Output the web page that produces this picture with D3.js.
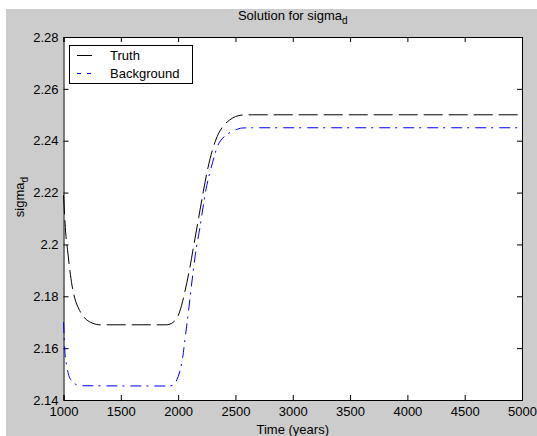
<!DOCTYPE html>
<html>
<head>
<meta charset="utf-8">
<script src="https://cdn.jsdelivr.net/npm/d3@7"></script>
<style>
  html, body { margin: 0; padding: 0; background: #ffffff; }
  svg { display: block; }
  text { font-family: "Liberation Sans", Arial, Helvetica, sans-serif; fill: #000; }
</style>
</head>
<body>
<svg id="chart" width="537" height="436"></svg>
<script>
// Time axis (years) and solution values for sigma_d
const truthYears = [1000, 1010, 1020, 1035, 1050, 1075, 1100, 1130, 1160, 1200, 1250, 1320, 1900, 1940, 1970, 2000, 2030, 2060, 2100, 2140, 2180, 2220, 2260, 2300, 2350, 2400, 2450, 2500, 2560, 2650, 5000];
const truthValues = [2.219, 2.211, 2.204, 2.198, 2.192, 2.184, 2.179, 2.1755, 2.173, 2.171, 2.1697, 2.169, 2.169, 2.1695, 2.1705, 2.1725, 2.1765, 2.182, 2.1905, 2.2005, 2.2105, 2.2205, 2.2295, 2.2365, 2.2425, 2.246, 2.248, 2.2493, 2.2499, 2.25, 2.25];

const backgroundYears = [1000, 1005, 1010, 1020, 1035, 1050, 1070, 1100, 1150, 1900, 1950, 1980, 2000, 2020, 2040, 2060, 2090, 2120, 2150, 2190, 2240, 2300, 2340, 2400, 2480, 2560, 2650, 5000];
const backgroundValues = [2.170, 2.165, 2.160, 2.1555, 2.1515, 2.149, 2.1475, 2.1462, 2.1455, 2.1454, 2.1456, 2.147, 2.149, 2.152, 2.1565, 2.1635, 2.174, 2.1855, 2.196, 2.2065, 2.2205, 2.2315, 2.2375, 2.2415, 2.2437, 2.2449, 2.245, 2.245];

const xTicks = [1000, 1500, 2000, 2500, 3000, 3500, 4000, 4500, 5000];
const yTicks = [2.14, 2.16, 2.18, 2.2, 2.22, 2.24, 2.26, 2.28];
const seriesNames = ["Truth", "Background"];

const svg = d3.select("#chart");
const W = 537, H = 436;
const plot = { left: 63.5, right: 522, top: 37, bottom: 400 };

// figure background
svg.append("rect").attr("x", 6).attr("y", 9).attr("width", W - 6).attr("height", H - 9).attr("fill", "#cccccc");

const x = d3.scaleLinear().domain([1000, 5000]).range([plot.left, plot.right]);
const y = d3.scaleLinear().domain([2.14, 2.28]).range([plot.bottom, plot.top]);

// axes area
svg.append("rect")
  .attr("x", plot.left).attr("y", plot.top)
  .attr("width", plot.right - plot.left).attr("height", plot.bottom - plot.top)
  .attr("fill", "#ffffff");

const fmt = d => d3.format("")(+d.toFixed(2));

// bottom axis with ticks pointing inward
const xAxis = svg.append("g")
  .attr("transform", `translate(0,${plot.bottom})`)
  .call(d3.axisBottom(x).tickValues(xTicks).tickSize(-5).tickPadding(7).tickFormat(d3.format("d")));
// top axis (ticks only)
const xAxisTop = svg.append("g")
  .attr("transform", `translate(0,${plot.top})`)
  .call(d3.axisTop(x).tickValues(xTicks).tickSize(-5).tickFormat(""));
// left axis
const yAxis = svg.append("g")
  .attr("transform", `translate(${plot.left},0)`)
  .call(d3.axisLeft(y).tickValues(yTicks).tickSize(-5).tickPadding(5).tickFormat(fmt));
// right axis (ticks only)
const yAxisRight = svg.append("g")
  .attr("transform", `translate(${plot.right},0)`)
  .call(d3.axisRight(y).tickValues(yTicks).tickSize(-5).tickFormat(""));

[xAxis, xAxisTop, yAxis, yAxisRight].forEach(g => {
  g.selectAll(".domain").attr("stroke", "#000").attr("stroke-width", 1);
  g.selectAll(".tick line").attr("stroke", "#000");
  g.selectAll("text").attr("font-size", 13).attr("font-family", "Liberation Sans, Arial, sans-serif").attr("fill", "#000");
});

// series lines
const line = d3.line()
  .x(d => x(d[0]))
  .y(d => y(d[1]))
  .curve(d3.curveMonotoneX);

const truth = truthYears.map((t, i) => [t, truthValues[i]]);
const background = backgroundYears.map((t, i) => [t, backgroundValues[i]]);

svg.append("path").datum(truth)
  .attr("d", line).attr("fill", "none")
  .attr("stroke", "#000").attr("stroke-width", 1)
  .attr("stroke-dasharray", "19,6");

svg.append("path").datum(background)
  .attr("d", line).attr("fill", "none")
  .attr("stroke", "#0000ff").attr("stroke-width", 1)
  .attr("stroke-dasharray", "11,5,2,6");

// title
const title = svg.append("text")
  .attr("x", (plot.left + plot.right) / 2).attr("y", 20)
  .attr("text-anchor", "middle").attr("font-size", 13);
title.append("tspan").text("Solution for sigma");
title.append("tspan").attr("font-size", 10).attr("dy", 4).text("d");

// x label
svg.append("text")
  .attr("x", (plot.left + plot.right) / 2).attr("y", 434)
  .attr("text-anchor", "middle").attr("font-size", 13)
  .text("Time (years)");

// y label
const yl = svg.append("text")
  .attr("transform", `translate(24,${197}) rotate(-90)`)
  .attr("text-anchor", "middle").attr("font-size", 13);
yl.append("tspan").text("sigma");
yl.append("tspan").attr("font-size", 10).attr("dy", 4).text("d");

// legend
const lg = svg.append("g");
lg.append("rect").attr("x", 69.5).attr("y", 45.5).attr("width", 123).attr("height", 38)
  .attr("fill", "#fff").attr("stroke", "#000").attr("stroke-width", 1);
const legendStyles = [
  { stroke: "#000", dash: null },
  { stroke: "#0000ff", dash: "4,6" }
];
seriesNames.forEach((name, i) => {
  const cy = 55.5 + i * 18;
  lg.append("line").attr("x1", 77).attr("x2", 92).attr("y1", cy).attr("y2", cy)
    .attr("stroke", legendStyles[i].stroke).attr("stroke-width", 1)
    .attr("stroke-dasharray", legendStyles[i].dash);
  lg.append("text").attr("x", 110).attr("y", cy + 4.5).attr("font-size", 13).text(name);
});
</script>
</body>
</html>
